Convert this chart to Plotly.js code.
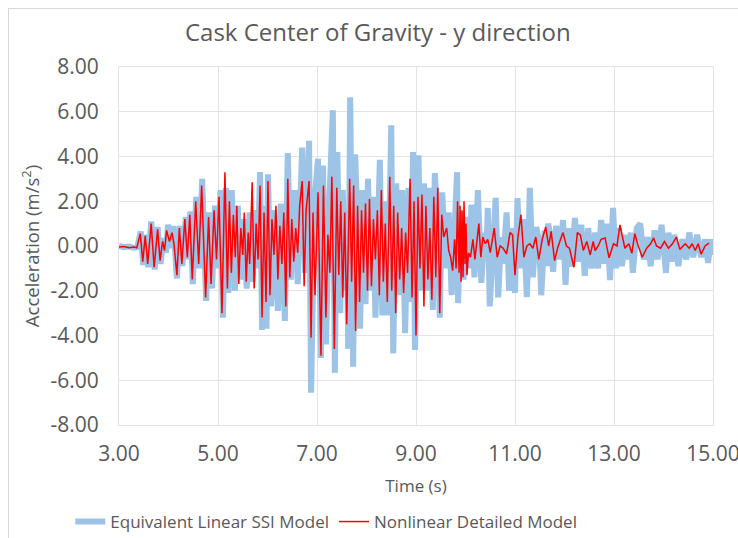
<!DOCTYPE html>
<html>
<head>
<meta charset="utf-8">
<script src="https://cdn.plot.ly/plotly-3.0.1.min.js"></script>
<style>
html,body{margin:0;padding:0;background:#fff;overflow:hidden;}
#wrap{position:absolute;left:0;top:0;width:738px;height:538px;overflow:hidden;}
#chart{width:738px;height:570px;position:absolute;left:0;top:0;}
#frame{position:absolute;left:8px;top:8px;width:740px;height:540px;border:1px solid #d9d9d9;pointer-events:none;}
</style>
</head>
<body>
<div id="wrap"><div id="chart"></div><div id="frame"></div></div>
<script>
// Equivalent Linear SSI Model (blue)
const linearTime = [3.00,3.10,3.20,3.30,3.37,3.44,3.49,3.54,3.59,3.65,3.72,3.78,3.84,3.90,3.95,3.99,4.05,4.10,4.17,4.23,4.28,4.35,4.40,4.44,4.49,4.56,4.62,4.68,4.76,4.82,4.88,4.94,4.99,5.05,5.10,5.16,5.21,5.28,5.34,5.40,5.46,5.52,5.58,5.64,5.70,5.76,5.80,5.85,5.89,5.95,5.98,6.01,6.07,6.13,6.21,6.27,6.35,6.41,6.47,6.55,6.61,6.70,6.76,6.84,6.88,6.95,7.02,7.08,7.12,7.18,7.25,7.32,7.36,7.41,7.47,7.52,7.57,7.60,7.63,7.67,7.73,7.77,7.82,7.87,7.92,7.98,8.03,8.08,8.13,8.18,8.27,8.32,8.38,8.43,8.50,8.54,8.60,8.66,8.72,8.78,8.85,8.90,8.94,8.98,9.05,9.10,9.16,9.22,9.28,9.34,9.38,9.44,9.48,9.53,9.60,9.66,9.72,9.78,9.83,9.85,9.90,9.96,10.02,10.07,10.12,10.18,10.25,10.32,10.38,10.42,10.45,10.49,10.56,10.61,10.66,10.72,10.76,10.83,10.88,10.94,11.00,11.05,11.11,11.17,11.24,11.30,11.36,11.43,11.49,11.53,11.60,11.64,11.67,11.72,11.77,11.83,11.90,11.97,12.02,12.08,12.14,12.21,12.28,12.34,12.41,12.48,12.55,12.62,12.68,12.74,12.80,12.86,12.92,12.98,13.04,13.10,13.16,13.24,13.30,13.34,13.38,13.46,13.53,13.60,13.68,13.74,13.82,13.88,13.96,14.05,14.10,14.16,14.22,14.30,14.38,14.46,14.52,14.60,14.68,14.76,14.84,14.90,14.96,15.00];
const linearAccel = [0.00,-0.05,-0.02,-0.08,-0.05,0.65,-0.85,0.50,-0.95,1.10,-1.05,0.85,-0.80,0.35,-0.30,0.95,-0.10,0.90,-1.45,0.90,-0.90,1.30,-0.60,1.55,-1.70,2.20,-1.00,3.00,-2.45,1.50,-1.90,1.80,-1.00,2.50,-3.20,2.60,-2.10,2.50,-2.00,1.80,-1.50,1.20,-1.90,1.50,-1.60,1.60,-1.00,3.30,-3.75,1.80,-3.70,3.20,-2.70,1.60,-2.90,1.90,-3.35,4.15,-1.50,2.50,-1.70,4.40,-1.20,4.70,-6.56,2.00,3.90,-5.00,3.60,-4.40,2.00,6.07,-5.67,4.20,-3.00,2.50,-2.00,1.50,-4.60,6.65,-5.40,4.10,1.00,-3.70,2.50,-2.60,3.00,-2.00,2.20,-3.20,3.85,-3.10,2.00,-3.10,5.40,-4.80,2.80,-2.20,2.50,-3.90,2.60,-2.50,4.20,-4.65,4.05,-2.00,2.80,-2.00,2.60,-2.86,3.26,1.00,-3.20,2.40,-1.00,1.50,-2.20,1.20,3.30,-2.55,1.50,-1.50,1.30,-1.00,1.85,-1.40,2.50,-1.65,0.60,-0.50,1.70,-2.70,0.50,2.15,-2.30,0.40,-0.80,1.50,-2.00,0.80,-2.10,2.14,-1.00,1.20,-2.28,2.60,-1.40,0.85,0.20,-2.20,0.70,-0.90,1.00,0.40,-1.15,0.90,-0.60,1.16,-1.74,0.80,-0.93,1.25,-0.70,0.95,-1.33,0.80,-1.00,0.60,-1.00,1.16,-0.80,1.00,-1.52,1.70,-1.00,0.80,-0.90,0.50,-0.60,0.60,-1.20,0.80,1.00,-0.60,0.40,-0.90,0.70,-0.60,0.95,-1.20,0.60,-0.70,0.50,-0.90,0.30,-0.60,0.60,-0.50,0.50,-0.50,0.30,-0.75,0.30,-0.40];

// Nonlinear Detailed Model (red)
const nonlinearTime = [3.00,3.10,3.20,3.30,3.36,3.43,3.48,3.53,3.58,3.65,3.71,3.78,3.83,3.88,3.92,3.96,4.02,4.07,4.11,4.17,4.22,4.27,4.33,4.38,4.43,4.48,4.55,4.61,4.67,4.75,4.81,4.86,4.92,4.97,5.02,5.08,5.14,5.19,5.23,5.27,5.31,5.35,5.38,5.42,5.46,5.50,5.53,5.57,5.61,5.64,5.69,5.73,5.77,5.81,5.85,5.89,5.93,5.97,6.01,6.05,6.09,6.13,6.17,6.21,6.25,6.29,6.33,6.37,6.41,6.45,6.49,6.53,6.57,6.61,6.65,6.70,6.74,6.78,6.84,6.88,6.92,6.96,7.02,7.08,7.13,7.18,7.22,7.26,7.30,7.35,7.40,7.44,7.48,7.52,7.56,7.60,7.66,7.70,7.74,7.78,7.82,7.86,7.90,7.94,7.98,8.02,8.06,8.10,8.14,8.18,8.22,8.26,8.30,8.34,8.38,8.42,8.47,8.51,8.55,8.59,8.63,8.67,8.71,8.75,8.79,8.83,8.88,8.92,8.96,9.00,9.04,9.08,9.12,9.16,9.20,9.24,9.28,9.32,9.36,9.40,9.44,9.48,9.52,9.56,9.62,9.66,9.70,9.74,9.78,9.81,9.84,9.87,9.89,9.91,9.93,9.95,9.97,9.99,10.01,10.03,10.06,10.10,10.15,10.19,10.27,10.31,10.35,10.40,10.45,10.50,10.58,10.64,10.70,10.76,10.83,10.90,10.95,11.00,11.06,11.12,11.18,11.24,11.30,11.36,11.42,11.48,11.55,11.62,11.68,11.73,11.80,11.86,11.92,11.97,12.04,12.10,12.19,12.26,12.32,12.38,12.45,12.52,12.58,12.62,12.68,12.74,12.82,12.90,12.99,13.06,13.12,13.22,13.30,13.36,13.42,13.49,13.57,13.66,13.74,13.80,13.86,13.94,14.02,14.10,14.18,14.26,14.33,14.44,14.52,14.58,14.64,14.70,14.76,14.84,14.92,15.00];
const nonlinearAccel = [-0.05,-0.02,-0.08,-0.05,-0.08,0.55,-0.70,0.45,-0.80,1.00,-0.95,0.75,-0.65,0.20,-0.20,0.70,0.20,0.60,0.10,-1.30,0.80,-0.80,1.20,-0.50,1.40,-1.50,2.00,-0.80,2.70,-2.30,1.30,-1.70,1.60,-0.60,2.20,-3.00,3.30,-1.90,2.00,-1.20,1.40,-0.50,1.80,-1.70,0.80,-0.40,1.50,-1.60,0.60,-0.80,2.85,-1.90,1.00,-0.60,2.70,-3.20,1.50,-2.50,2.90,-2.20,1.20,-0.40,1.80,-1.50,0.90,-0.80,1.50,-2.70,3.00,-1.40,1.20,-0.70,0.80,-0.30,1.80,2.90,-1.80,1.60,2.90,-4.10,1.50,-2.20,2.40,-4.90,2.70,-3.20,0.50,-1.20,3.10,-4.60,2.60,-1.30,2.00,-2.30,1.50,-3.50,3.00,-1.60,2.70,-3.80,1.80,-2.50,1.60,-1.20,1.90,-2.00,2.10,-1.80,1.20,-0.60,1.60,-2.20,2.50,-1.60,1.00,-2.50,3.10,-2.00,1.80,-3.00,1.50,-1.50,0.80,-2.10,0.60,-1.20,3.00,-2.30,2.00,-4.00,2.20,-1.00,2.30,-2.70,1.80,-1.50,0.80,-2.40,2.20,-1.40,2.60,-3.00,1.40,0.40,0.80,-0.20,-0.50,-1.10,0.30,-1.00,2.00,-1.20,1.80,-1.60,1.60,-1.40,2.00,-0.80,1.00,-1.30,-0.30,-0.50,0.30,-0.60,1.00,-0.50,0.40,0.10,0.30,-0.30,0.80,-0.50,0.00,-0.10,-0.35,0.60,0.50,-1.30,0.40,1.40,-0.50,0.00,0.10,-0.10,0.40,-0.60,0.30,0.85,0.00,0.65,-0.65,-0.10,0.30,0.60,0.00,-0.10,-0.95,0.60,0.50,-0.20,0.20,-0.40,0.20,-0.20,0.00,0.30,0.36,-0.53,0.10,0.00,0.94,-0.10,0.10,-0.33,0.55,0.00,-0.50,-0.10,0.10,0.36,0.00,-0.10,0.20,-0.10,0.10,0.40,-0.15,0.10,-0.10,0.10,-0.20,0.10,-0.37,0.00,0.13];

const xTicks = [3,5,7,9,11,13,15];
const xTickLabels = ["3.00","5.00","7.00","9.00","11.00","13.00","15.00"];
const yTicks = [-8,-6,-4,-2,0,2,4,6,8];
const yTickLabels = ["-8.00","-6.00","-4.00","-2.00","0.00","2.00","4.00","6.00","8.00"];

const FONT = '"Open Sans", "DejaVu Sans", sans-serif';
const GRID = '#e3e3e3';
const TXT = '#595959';

const traces = [
  {x: linearTime, y: linearAccel, type: 'scatter', mode: 'lines', name: 'Equivalent Linear SSI Model',
   line: {color: '#9dc3e6', width: 6}},
  {x: nonlinearTime, y: nonlinearAccel, type: 'scatter', mode: 'lines', name: 'Nonlinear Detailed Model',
   line: {color: '#ff0000', width: 1.5}}
];

const H = 570;
const layout = {
  width: 738, height: H,
  margin: {l: 119, r: 25, t: 67, b: H - 425},
  paper_bgcolor: 'rgba(0,0,0,0)', plot_bgcolor: '#ffffff',
  font: {family: FONT, color: TXT, size: 17},
  title: {text: 'Cask Center of Gravity - y direction', x: 0.512, xanchor: 'center',
          y: 1 - 33 / H, yanchor: 'middle',
          font: {family: FONT, size: 24, color: TXT}},
  xaxis: {range: [3, 15], tickvals: xTicks, ticktext: xTickLabels, showgrid: true, gridcolor: GRID,
          zeroline: false, showline: true, mirror: true, linecolor: GRID, ticks: '', automargin: false,
          ticklabelstandoff: 10, ticklabeloverflow: 'allow', tickfont: {size: 21, color: TXT},
          title: {text: 'Time (s)', font: {size: 17, color: TXT}, standoff: 13}},
  yaxis: {range: [-8, 8], tickvals: yTicks, ticktext: yTickLabels, showgrid: true, gridcolor: GRID,
          zeroline: false, showline: true, mirror: true, linecolor: GRID, ticks: '', automargin: false,
          ticklabelstandoff: 15, tickfont: {size: 21, color: TXT},
          title: {text: 'Acceleration (m/s<sup>2</sup>)', font: {size: 18.5, color: TXT}, standoff: 6}},
  showlegend: true,
  legend: {orientation: 'h', x: -0.082, xanchor: 'left', y: (425 - 522) / 358, yanchor: 'middle',
           font: {size: 17, color: TXT}, bgcolor: 'rgba(0,0,0,0)', itemwidth: 30, traceorder: 'normal'}
};

Plotly.newPlot('chart', traces, layout, {displayModeBar: false, staticPlot: true});
</script>
</body>
</html>
